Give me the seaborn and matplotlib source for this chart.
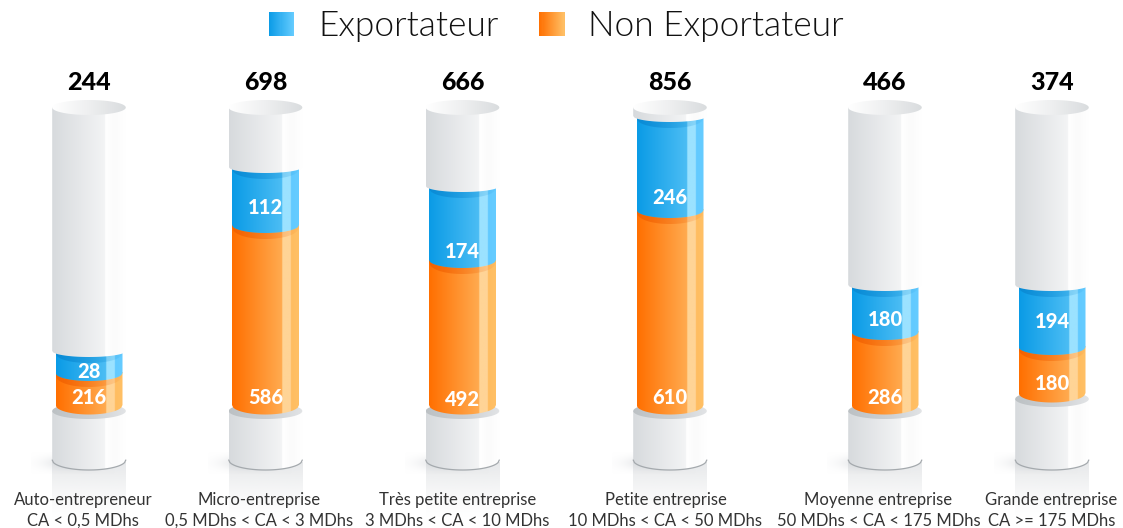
import numpy as np
import pandas as pd
import matplotlib
matplotlib.use("Agg")
import matplotlib.pyplot as plt
from matplotlib.colors import LinearSegmentedColormap, to_rgb
from matplotlib.path import Path
from matplotlib.patches import Rectangle, Patch
from matplotlib.legend_handler import HandlerBase
import seaborn as sns

# ---- data ----
categories = ["Auto-entrepreneur\nCA < 0,5 MDhs", "Micro-entreprise\n0,5 MDhs < CA < 3 MDhs",
              "Très petite entreprise\n3 MDhs < CA < 10 MDhs", "Petite entreprise\n10 MDhs < CA < 50 MDhs",
              "Moyenne entreprise\n50 MDhs < CA < 175 MDhs", "Grande entreprise\nCA >= 175 MDhs"]
exportateur = [28, 112, 174, 246, 180, 194]
non_exportateur = [216, 586, 492, 610, 286, 180]
totals = [244, 698, 666, 856, 466, 374]
# gauge levels as drawn (the picture's fill heights are not proportional to the values)
level_non_exportateur = [32, 180, 145, 195, 73, 58]
level_total = [53, 237, 218, 288, 119, 119]
floor_level = [0, 0, 0, 0, 0, 12]

# ---- layout ----
W, H = 1123, 528
BASE_PX = 405
col_x = [89, 265.5, 462.5, 670, 885, 1052]
tick_x = [83, 259.5, 457.5, 665.5, 878.5, 1051.5]
label_blue_px = [372, 208, 252, 198, 320, 321]
label_orange_px = [398, 398, 400, 398, 398, 383]
px = lambda p: BASE_PX - p

BLUE = [(0, "#0a9be6"), (.75, "#4cbdf4"), (.75, "#9be2ff"), (.88, "#9be2ff"), (.88, "#62caff"), (1, "#66ccff")]
ORANGE = [(0, "#ff6f00"), (.75, "#ffab50"), (.75, "#ffd496"), (.88, "#ffd496"), (.88, "#ffbd60"), (1, "#ffc066")]
CAP = [(0, "#d7dadd"), (.72, "#f3f4f5"), (.72, "#ffffff"), (.85, "#fbfbfb"), (1, "#ffffff")]
DISC = [(0, "#ffffff"), (.5, "#eeeff0"), (1, "#d9dcde")]
LIP = [(0, "#bcc1c4"), (.6, "#cfd2d5"), (1, "#e2e4e6")]

sns.set_theme(style="white")
plt.rcParams["font.family"] = ["Lato", "DejaVu Sans"]

fig = plt.figure(figsize=(W / 100, H / 100), dpi=100)
ax = fig.add_axes([0, 0, 1, 1])
df = pd.DataFrame({"x": col_x, "total": level_total, "orange": level_non_exportateur})
sns.barplot(data=df, x="x", y="total", native_scale=True, color="#0a9be6", saturation=1,
            width=67 / 167, errorbar=None, ax=ax, zorder=1)
sns.barplot(data=df, x="x", y="orange", native_scale=True, color="#ff6f00", saturation=1,
            width=67 / 167, errorbar=None, ax=ax, zorder=1)
ax.set_xlim(0, W)
ax.set_ylim(px(H), px(0))


def cmap_of(stops):
    return LinearSegmentedColormap.from_list("g", stops, N=512)


def grad(x0, x1, y0, y1, stops, path, z):
    im = ax.imshow(np.linspace(0, 1, 512)[None, :], extent=[x0, x1, y0, y1], aspect="auto",
                   cmap=cmap_of(stops), zorder=z, interpolation="bilinear", vmin=0, vmax=1)
    im.set_clip_path(path, ax.transData)
    return im


def arc(c, r, y, d, n=60):
    xs = np.linspace(c - r, c + r, n)
    return xs, y - d * np.sqrt(np.clip(1 - ((xs - c) / r) ** 2, 0, 1))


def band(c, r, top, bottom, d):
    xs, ys = arc(c, r, bottom, d)
    v = list(zip(xs, ys)) + [(c + r, top), (c - r, top)]
    return Path(v + [v[0]])


def ellipse(c, r, y, d, n=90):
    t = np.linspace(0, 2 * np.pi, n)
    return Path(np.c_[c + r * np.cos(t), y + d * np.sin(t)])


def crescent(c, r, y, d, depth, color, a0, a1, z):
    xs, a = arc(c, r, y, d)
    # the shadow tapers to nothing at the tube's edges, and fades towards the right
    lower = a - depth * np.sqrt(np.clip(1 - ((xs - c) / r) ** 2, 0, 1)) ** 0.5
    v = list(zip(xs, lower)) + list(zip(xs[::-1], a[::-1]))
    rgb = to_rgb(color)
    stops = [(0, rgb + (a0,)), (1, rgb + (a1,))]
    grad(c - r, c + r, y - d - depth - 1, y + 1, stops, Path(v + [v[0]]), z)


def soft_rgba(color, alpha):
    rgba = np.zeros(alpha.shape + (4,))
    rgba[..., :3] = to_rgb(color)
    rgba[..., 3] = alpha
    return rgba


bars_total = ax.patches[:6]
bars_orange = ax.patches[6:12]
for i, (bt, bo) in enumerate(zip(bars_total, bars_orange)):
    c = bt.get_x() + bt.get_width() / 2
    r = bt.get_width() / 2
    R = 36.8
    lt, lo, fl = bt.get_height(), bo.get_height(), floor_level[i]
    for b in (bt, bo):
        b.set_alpha(0)

    # reflection below the base
    yy, _ = np.mgrid[0:1:60j, 0:1:2j]
    al = 0.75 * (1 - yy) ** 1.3
    ax.imshow(soft_rgba("#dfe1e3", al), extent=[c - R, c + R, px(518), px(462)], aspect="auto",
              zorder=0.2, interpolation="bilinear")
    # soft ground shadow on the left
    gy, gx = np.mgrid[-1:1:40j, -1:1:80j]
    ax.imshow(soft_rgba("#c4c8cc", 0.55 * np.exp(-2.6 * (gx ** 2 + gy ** 2))),
              extent=[c - 58, c + 26, px(474), px(452)], aspect="auto", zorder=0.3, interpolation="bilinear")

    # base cylinder
    side = fl - 6
    grad(c - R, c + R, px(472), side, CAP, band(c, R, side, px(460), 10), 0.5)
    xs, a = arc(c, R, px(460), 10)
    ax.plot(xs, a, color="#a4a9ad", lw=0.9, zorder=0.6)
    grad(c - R, c + R, side - 9, side + 9, LIP, ellipse(c, R, side, 8), 0.7)

    # orange band
    grad(c - r, c + r, fl - 11, lo + 1, ORANGE, band(c, r, lo + 1, fl, 9.5), 1.1)
    # blue band
    crescent(c, r, lo, 8, 6, "#ee5c00", 0.7, 0.04, 1.2)
    grad(c - r, c + r, lo - 11, lt + 1, BLUE, band(c, r, lt + 1, lo, 8), 1.3)
    # top cylinder
    crescent(c, r, lt + 1, 6, 6, "#0a86d0", 0.75, 0.05, 1.4)
    top_axis = px(107.5)
    cap_end = lt + 1
    grad(c - R, c + R, cap_end - 8, top_axis, CAP, band(c, R, top_axis, cap_end, 6), 1.5)
    grad(c - R, c + R, top_axis - 8, top_axis + 8, DISC, ellipse(c, R, top_axis, 7.5), 1.6)

    # value labels
    ax.text(c, px(label_blue_px[i]), str(exportateur[i]), color="white", fontsize=14.5, fontweight=900,
            ha="center", va="center", zorder=3)
    ax.text(c, px(label_orange_px[i]), str(non_exportateur[i]), color="white", fontsize=14.5, fontweight=900,
            ha="center", va="center", zorder=3)
    ax.text(c, px(83), str(totals[i]), color="#000000", fontsize=18, fontweight=900,
            ha="center", va="center", zorder=3)

ax.set_xlabel("")
ax.set_ylabel("")
ax.set_yticks([])
ax.set_xticks(tick_x)
ax.set_xticklabels(categories, fontsize=12, color="#333333", linespacing=1.38)
ax.tick_params(axis="x", length=0, pad=-26)
ax.set_axisbelow(False)
sns.despine(ax=ax, left=True, bottom=True)
for s in ax.spines.values():
    s.set_visible(False)
ax.set_facecolor("white")


class GradHandler(HandlerBase):
    def __init__(self, stops):
        super().__init__()
        self.cm = cmap_of(stops)

    def create_artists(self, legend, orig, xd, yd, width, height, fontsize, trans):
        n = 24
        return [Rectangle((-xd + width * k / n, -yd), width / n + .3, height, lw=0,
                          facecolor=self.cm((k + .5) / n), transform=trans) for k in range(n)]


h1 = Patch(label="Exportateur")
h2 = Patch(label="Non Exportateur")
ax.legend(handles=[h1, h2], ncol=2, frameon=False, loc="center left",
          bbox_to_anchor=(269 / W, 1 - 26 / H), handlelength=0.71, handleheight=0.68, handletextpad=0.68,
          columnspacing=1.16, borderpad=0, borderaxespad=0, labelcolor="#111111",
          prop={"family": ["Lato"], "weight": 300, "size": 25.4},
          handler_map={h1: GradHandler([(0, "#0a9be6"), (1, "#66ccff")]),
                       h2: GradHandler([(0, "#ff6f00"), (1, "#ffc066")])})

fig.savefig("out.png", dpi=100, facecolor="white")
